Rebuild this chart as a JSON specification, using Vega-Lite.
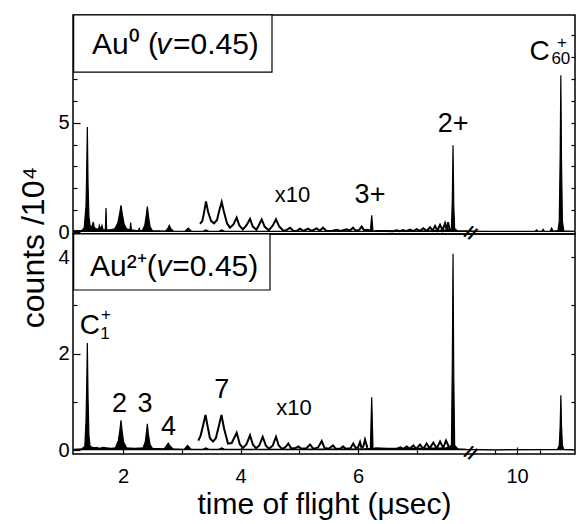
{
  "$schema": "https://vega.github.io/schema/vega-lite/v6.json",
  "padding": {"left": 16, "top": 13, "right": 0, "bottom": 72},
  "spacing": 0,
  "bounds": "flush",
  "resolve": {"scale": {"x": "independent", "y": "independent"}, "axis": {"x": "independent", "y": "independent"}},
  "config": {
    "font": "Liberation Sans",
    "view": {"stroke": "black", "strokeWidth": 1.5},
    "axis": {"domain": false, "grid": false, "labelFont": "Liberation Sans", "labelFontSize": 20, "labelColor": "black", "tickColor": "black", "tickWidth": 1.2, "titleFont": "Liberation Sans", "titleFontWeight": "normal", "titleColor": "black", "labelFlush": false, "labelOverlap": false},
    "text": {"font": "Liberation Sans", "color": "black"}
  },
  "datasets": {
    "top_main": [
      {"t":1.15,"c":0.05},{"t":1.3,"c":0.08},{"t":1.34,"c":0.2},{"t":1.37,"c":1.2},{"t":1.38,"c":2.5},{"t":1.393,"c":4.8},{"t":1.405,"c":2.2},{"t":1.42,"c":0.7},{"t":1.44,"c":0.3},{"t":1.465,"c":0.2},{"t":1.495,"c":0.46},{"t":1.51,"c":0.2},{"t":1.55,"c":0.15},{"t":1.585,"c":0.12},{"t":1.597,"c":0.3},{"t":1.62,"c":0.12},{"t":1.643,"c":0.3},{"t":1.66,"c":0.1},{"t":1.7,"c":0.1},{"t":1.711,"c":1.1},{"t":1.722,"c":0.1},{"t":1.78,"c":0.1},{"t":1.86,"c":0.15},{"t":1.91,"c":0.4},{"t":1.94,"c":0.8},{"t":1.966,"c":1.22},{"t":1.99,"c":0.8},{"t":2.02,"c":0.35},{"t":2.06,"c":0.15},{"t":2.12,"c":0.1},{"t":2.131,"c":0.43},{"t":2.142,"c":0.1},{"t":2.265,"c":0.05},{"t":2.277,"c":0.2},{"t":2.29,"c":0.05},{"t":2.33,"c":0.08},{"t":2.37,"c":0.3},{"t":2.395,"c":0.75},{"t":2.414,"c":1.17},{"t":2.435,"c":0.7},{"t":2.46,"c":0.25},{"t":2.5,"c":0.06},{"t":2.72,"c":0.04},{"t":2.76,"c":0.15},{"t":2.788,"c":0.3},{"t":2.815,"c":0.15},{"t":2.86,"c":0.04},{"t":3.05,"c":0.03},{"t":3.111,"c":0.18},{"t":3.17,"c":0.03},{"t":3.36,"c":0.03},{"t":3.41,"c":0.1},{"t":3.46,"c":0.03},{"t":3.63,"c":0.03},{"t":3.68,"c":0.1},{"t":3.73,"c":0.03},{"t":4.5,"c":0.03},{"t":6.15,"c":0.04},{"t":6.21,"c":0.05},{"t":6.233,"c":0.76},{"t":6.255,"c":0.05},{"t":6.5,"c":0.04},{"t":7.0,"c":0.04},{"t":7.3,"c":0.06},{"t":7.5,"c":0.1},{"t":7.59,"c":0.15},{"t":7.605,"c":1.5},{"t":7.617,"c":3.97},{"t":7.63,"c":1.2},{"t":7.645,"c":0.15},{"t":7.7,"c":0.05},{"t":7.85,"c":0.05},{"t":8.5,"c":0.03},{"t":10.5,"c":0.03},{"t":10.8,"c":0.03},{"t":10.87,"c":0.1},{"t":10.94,"c":0.03},{"t":11.1,"c":0.03},{"t":11.16,"c":0.12},{"t":11.22,"c":0.03},{"t":11.47,"c":0.04},{"t":11.54,"c":0.18},{"t":11.61,"c":0.04},{"t":11.82,"c":0.06},{"t":11.88,"c":0.5},{"t":11.92,"c":3.5},{"t":11.95,"c":7.17},{"t":11.98,"c":3.2},{"t":12.02,"c":0.5},{"t":12.08,"c":0.05},{"t":12.58,"c":0.03}
    ],
    "top_x10": [
      {"s":"a","t":3.31,"c":0.38},{"s":"a","t":3.35,"c":0.5},{"s":"a","t":3.38,"c":0.9},{"s":"a","t":3.413,"c":1.4},{"s":"a","t":3.45,"c":0.9},{"s":"a","t":3.5,"c":0.5},{"s":"a","t":3.55,"c":0.4},{"s":"a","t":3.6,"c":0.55},{"s":"a","t":3.64,"c":1.0},{"s":"a","t":3.68,"c":1.37},{"s":"a","t":3.72,"c":0.9},{"s":"a","t":3.77,"c":0.4},{"s":"a","t":3.82,"c":0.2},{"s":"a","t":3.88,"c":0.35},{"s":"a","t":3.935,"c":0.66},{"s":"a","t":3.98,"c":0.3},{"s":"a","t":4.04,"c":0.12},{"s":"a","t":4.1,"c":0.3},{"s":"a","t":4.162,"c":0.6},{"s":"a","t":4.21,"c":0.25},{"s":"a","t":4.27,"c":0.1},{"s":"a","t":4.31,"c":0.3},{"s":"a","t":4.361,"c":0.58},{"s":"a","t":4.41,"c":0.25},{"s":"a","t":4.48,"c":0.08},{"s":"a","t":4.55,"c":0.3},{"s":"a","t":4.604,"c":0.58},{"s":"a","t":4.66,"c":0.25},{"s":"a","t":4.73,"c":0.06},{"s":"a","t":4.79,"c":0.1},{"s":"a","t":4.843,"c":0.2},{"s":"a","t":4.9,"c":0.06},{"s":"a","t":4.96,"c":0.05},{"s":"a","t":5.013,"c":0.15},{"s":"a","t":5.07,"c":0.05},{"s":"a","t":5.149,"c":0.15},{"s":"a","t":5.21,"c":0.05},{"s":"a","t":5.297,"c":0.17},{"s":"a","t":5.35,"c":0.06},{"s":"a","t":5.404,"c":0.2},{"s":"a","t":5.46,"c":0.06},{"s":"a","t":5.55,"c":0.05},{"s":"a","t":5.637,"c":0.1},{"s":"a","t":5.7,"c":0.05},{"s":"a","t":5.808,"c":0.12},{"s":"a","t":5.86,"c":0.06},{"s":"a","t":5.915,"c":0.2},{"s":"a","t":5.96,"c":0.06},{"s":"a","t":6.02,"c":0.1},{"s":"a","t":6.063,"c":0.25},{"s":"a","t":6.1,"c":0.08},{"s":"a","t":6.15,"c":0.1},{"s":"a","t":6.2,"c":0.08},
      {"s":"b","t":6.28,"c":0.05},{"s":"b","t":6.45,"c":0.05},{"s":"b","t":6.6,"c":0.04},{"s":"b","t":6.659,"c":0.08},{"s":"b","t":6.71,"c":0.04},{"s":"b","t":6.766,"c":0.09},{"s":"b","t":6.82,"c":0.04},{"s":"b","t":6.885,"c":0.11},{"s":"b","t":6.94,"c":0.04},{"s":"b","t":6.999,"c":0.13},{"s":"b","t":7.05,"c":0.05},{"s":"b","t":7.111,"c":0.17},{"s":"b","t":7.17,"c":0.05},{"s":"b","t":7.225,"c":0.22},{"s":"b","t":7.27,"c":0.06},{"s":"b","t":7.311,"c":0.28},{"s":"b","t":7.35,"c":0.07},{"s":"b","t":7.396,"c":0.33},{"s":"b","t":7.44,"c":0.08},{"s":"b","t":7.481,"c":0.4},{"s":"b","t":7.51,"c":0.1},{"s":"b","t":7.532,"c":0.45},{"s":"b","t":7.56,"c":0.12}
    ],
    "bot_main": [
      {"t":1.15,"c":0.02},{"t":1.3,"c":0.03},{"t":1.35,"c":0.08},{"t":1.37,"c":0.6},{"t":1.382,"c":1.3},{"t":1.393,"c":2.22},{"t":1.405,"c":1.1},{"t":1.42,"c":0.3},{"t":1.44,"c":0.08},{"t":1.5,"c":0.05},{"t":1.55,"c":0.06},{"t":1.6,"c":0.04},{"t":1.66,"c":0.06},{"t":1.72,"c":0.05},{"t":1.8,"c":0.04},{"t":1.87,"c":0.05},{"t":1.92,"c":0.2},{"t":1.945,"c":0.4},{"t":1.966,"c":0.62},{"t":1.985,"c":0.4},{"t":2.01,"c":0.17},{"t":2.06,"c":0.05},{"t":2.2,"c":0.04},{"t":2.34,"c":0.05},{"t":2.38,"c":0.18},{"t":2.4,"c":0.38},{"t":2.414,"c":0.55},{"t":2.43,"c":0.35},{"t":2.46,"c":0.12},{"t":2.5,"c":0.04},{"t":2.7,"c":0.03},{"t":2.74,"c":0.09},{"t":2.771,"c":0.15},{"t":2.8,"c":0.09},{"t":2.85,"c":0.03},{"t":3.04,"c":0.02},{"t":3.1,"c":0.1},{"t":3.16,"c":0.02},{"t":3.36,"c":0.02},{"t":3.41,"c":0.05},{"t":3.46,"c":0.02},{"t":3.63,"c":0.02},{"t":3.68,"c":0.05},{"t":3.73,"c":0.02},{"t":4.5,"c":0.02},{"t":6.1,"c":0.03},{"t":6.21,"c":0.04},{"t":6.233,"c":1.1},{"t":6.255,"c":0.04},{"t":6.5,"c":0.03},{"t":7.5,"c":0.05},{"t":7.59,"c":0.1},{"t":7.605,"c":1.8},{"t":7.617,"c":4.07},{"t":7.63,"c":1.5},{"t":7.645,"c":0.1},{"t":7.7,"c":0.03},{"t":7.85,"c":0.02},{"t":9.0,"c":0.01},{"t":11.8,"c":0.02},{"t":11.88,"c":0.1},{"t":11.92,"c":0.5},{"t":11.95,"c":1.14},{"t":11.98,"c":0.5},{"t":12.02,"c":0.1},{"t":12.08,"c":0.02},{"t":12.58,"c":0.01}
    ],
    "bot_x10": [
      {"s":"a","t":3.282,"c":0.2},{"s":"a","t":3.32,"c":0.3},{"s":"a","t":3.36,"c":0.5},{"s":"a","t":3.404,"c":0.73},{"s":"a","t":3.44,"c":0.5},{"s":"a","t":3.48,"c":0.25},{"s":"a","t":3.532,"c":0.18},{"s":"a","t":3.58,"c":0.25},{"s":"a","t":3.63,"c":0.5},{"s":"a","t":3.676,"c":0.73},{"s":"a","t":3.72,"c":0.45},{"s":"a","t":3.787,"c":0.14},{"s":"a","t":3.85,"c":0.15},{"s":"a","t":3.935,"c":0.36},{"s":"a","t":3.99,"c":0.12},{"s":"a","t":4.043,"c":0.05},{"s":"a","t":4.1,"c":0.12},{"s":"a","t":4.162,"c":0.31},{"s":"a","t":4.21,"c":0.12},{"s":"a","t":4.264,"c":0.04},{"s":"a","t":4.32,"c":0.1},{"s":"a","t":4.378,"c":0.28},{"s":"a","t":4.43,"c":0.1},{"s":"a","t":4.485,"c":0.03},{"s":"a","t":4.55,"c":0.1},{"s":"a","t":4.604,"c":0.28},{"s":"a","t":4.65,"c":0.1},{"s":"a","t":4.706,"c":0.03},{"s":"a","t":4.76,"c":0.06},{"s":"a","t":4.814,"c":0.14},{"s":"a","t":4.86,"c":0.04},{"s":"a","t":4.93,"c":0.04},{"s":"a","t":4.984,"c":0.08},{"s":"a","t":5.04,"c":0.03},{"s":"a","t":5.12,"c":0.04},{"s":"a","t":5.183,"c":0.12},{"s":"a","t":5.24,"c":0.03},{"s":"a","t":5.32,"c":0.06},{"s":"a","t":5.382,"c":0.19},{"s":"a","t":5.43,"c":0.05},{"s":"a","t":5.5,"c":0.03},{"s":"a","t":5.574,"c":0.1},{"s":"a","t":5.62,"c":0.03},{"s":"a","t":5.7,"c":0.03},{"s":"a","t":5.745,"c":0.08},{"s":"a","t":5.79,"c":0.03},{"s":"a","t":5.87,"c":0.04},{"s":"a","t":5.92,"c":0.14},{"s":"a","t":5.96,"c":0.05},{"s":"a","t":6.0,"c":0.06},{"s":"a","t":6.034,"c":0.17},{"s":"a","t":6.06,"c":0.05},{"s":"a","t":6.09,"c":0.08},{"s":"a","t":6.119,"c":0.22},{"s":"a","t":6.16,"c":0.05},
      {"s":"b","t":6.28,"c":0.04},{"s":"b","t":6.5,"c":0.03},{"s":"b","t":6.65,"c":0.03},{"s":"b","t":6.72,"c":0.06},{"s":"b","t":6.77,"c":0.03},{"s":"b","t":6.829,"c":0.08},{"s":"b","t":6.88,"c":0.03},{"s":"b","t":6.942,"c":0.1},{"s":"b","t":6.99,"c":0.03},{"s":"b","t":7.055,"c":0.12},{"s":"b","t":7.11,"c":0.03},{"s":"b","t":7.169,"c":0.14},{"s":"b","t":7.22,"c":0.04},{"s":"b","t":7.282,"c":0.16},{"s":"b","t":7.34,"c":0.04},{"s":"b","t":7.396,"c":0.18},{"s":"b","t":7.45,"c":0.05},{"s":"b","t":7.498,"c":0.2},{"s":"b","t":7.55,"c":0.06}
    ]
  },
  "vconcat": [
    {
      "width": 502,
      "height": 219,
      "resolve": {"axis": {"x": "independent", "y": "independent"}},
      "layer": [
        {
          "data": {"name": "top_main"},
          "mark": {"type": "area", "color": "black"},
          "encoding": {
            "x": {"field": "t", "type": "quantitative", "scale": {"domain": [1.149, 7.906, 12.58], "range": [0, 397, 502], "nice": false, "zero": false}, "axis": null},
            "y": {"field": "c", "type": "quantitative", "scale": {"domain": [-0.09, 9.93], "nice": false, "zero": false},
                  "axis": {"orient": "left", "values": [0,1,2,3,4,5,6,7,8,9], "labelExpr": "datum.value % 5 == 0 ? datum.label : ''", "tickSize": {"condition": {"test": "datum.value % 5 == 0", "value": -7}, "value": -4}, "labelPadding": 11, "title": "counts /10⁴", "titleFontSize": 32, "titleAngle": 270, "titleAlign": "center", "titleBaseline": "middle", "titleX": -40, "titleY": 232}},
            "y2": {"datum": 0}
          }
        },
        {
          "data": {"name": "top_main"},
          "mark": {"type": "line", "color": "black", "strokeWidth": 1.2},
          "encoding": {
            "x": {"field": "t", "type": "quantitative", "scale": {"domain": [1.149, 7.906, 12.58], "range": [0, 397, 502], "nice": false, "zero": false}, "axis": null},
            "y": {"field": "c", "type": "quantitative", "scale": {"domain": [-0.09, 9.93], "nice": false, "zero": false}, "axis": null}
          }
        },
        {
          "data": {"name": "top_x10"},
          "mark": {"type": "line", "color": "black", "strokeWidth": 2},
          "encoding": {
            "x": {"field": "t", "type": "quantitative", "scale": {"domain": [1.149, 7.906, 12.58], "range": [0, 397, 502], "nice": false, "zero": false}, "axis": null},
            "y": {"field": "c", "type": "quantitative", "scale": {"domain": [-0.09, 9.93], "nice": false, "zero": false}, "axis": null},
            "detail": {"field": "s"}
          }
        },
        {
          "data": {"values": [{"t1": 1.16, "t2": 4.536, "c1": 7.32, "c2": 9.93}]},
          "mark": {"type": "rect", "fill": "white", "stroke": "black", "strokeWidth": 1.2},
          "encoding": {
            "x": {"field": "t1", "type": "quantitative", "scale": {"domain": [1.149, 7.906, 12.58], "range": [0, 397, 502], "nice": false, "zero": false}, "axis": null},
            "x2": {"field": "t2"},
            "y": {"field": "c1", "type": "quantitative", "scale": {"domain": [-0.09, 9.93], "nice": false, "zero": false},
                  "axis": {"orient": "right", "values": [1,2,3,4,5,6,7,8,9], "labels": false, "tickSize": -4, "title": null}},
            "y2": {"field": "c2"}
          }
        },
        {
          "data": {"values": [{"t": 1.472, "c": 8.57, "label": "Au⁰ ("}, {"t": 2.85, "c": 8.57, "label": "=0.45)"}]},
          "mark": {"type": "text", "fontSize": 30, "align": "left", "baseline": "middle"},
          "encoding": {
            "x": {"field": "t", "type": "quantitative", "scale": {"domain": [1.149, 7.906, 12.58], "range": [0, 397, 502], "nice": false, "zero": false}, "axis": null},
            "y": {"field": "c", "type": "quantitative", "scale": {"domain": [-0.09, 9.93], "nice": false, "zero": false}, "axis": null},
            "text": {"field": "label"}
          }
        },
        {
          "data": {"values": [{"t": 2.565, "c": 8.57, "label": "v"}]},
          "mark": {"type": "text", "fontSize": 30, "fontStyle": "italic", "align": "left", "baseline": "middle"},
          "encoding": {
            "x": {"field": "t", "type": "quantitative", "scale": {"domain": [1.149, 7.906, 12.58], "range": [0, 397, 502], "nice": false, "zero": false}, "axis": null},
            "y": {"field": "c", "type": "quantitative", "scale": {"domain": [-0.09, 9.93], "nice": false, "zero": false}, "axis": null},
            "text": {"field": "label"}
          }
        },
        {
          "data": {"values": [{"t": 6.204, "c": 1.68, "label": "3+"}, {"t": 7.617, "c": 4.95, "label": "2+"}]},
          "mark": {"type": "text", "fontSize": 27, "align": "center", "baseline": "middle"},
          "encoding": {
            "x": {"field": "t", "type": "quantitative", "scale": {"domain": [1.149, 7.906, 12.58], "range": [0, 397, 502], "nice": false, "zero": false}, "axis": null},
            "y": {"field": "c", "type": "quantitative", "scale": {"domain": [-0.09, 9.93], "nice": false, "zero": false}, "axis": null},
            "text": {"field": "label"}
          }
        },
        {
          "data": {"values": [{"t": 4.885, "c": 1.68, "label": "x10"}]},
          "mark": {"type": "text", "fontSize": 22, "align": "center", "baseline": "middle"},
          "encoding": {
            "x": {"field": "t", "type": "quantitative", "scale": {"domain": [1.149, 7.906, 12.58], "range": [0, 397, 502], "nice": false, "zero": false}, "axis": null},
            "y": {"field": "c", "type": "quantitative", "scale": {"domain": [-0.09, 9.93], "nice": false, "zero": false}, "axis": null},
            "text": {"field": "label"}
          }
        },
        {
          "data": {"values": [{"t": 11.0, "c": 8.23, "label": "C"}]},
          "mark": {"type": "text", "fontSize": 28, "align": "center", "baseline": "middle"},
          "encoding": {
            "x": {"field": "t", "type": "quantitative", "scale": {"domain": [1.149, 7.906, 12.58], "range": [0, 397, 502], "nice": false, "zero": false}, "axis": null},
            "y": {"field": "c", "type": "quantitative", "scale": {"domain": [-0.09, 9.93], "nice": false, "zero": false}, "axis": null},
            "text": {"field": "label"}
          }
        },
        {
          "data": {"values": [{"t": 12.0, "c": 8.65, "label": "+"}, {"t": 11.95, "c": 7.91, "label": "60"}]},
          "mark": {"type": "text", "fontSize": 17, "align": "center", "baseline": "middle"},
          "encoding": {
            "x": {"field": "t", "type": "quantitative", "scale": {"domain": [1.149, 7.906, 12.58], "range": [0, 397, 502], "nice": false, "zero": false}, "axis": null},
            "y": {"field": "c", "type": "quantitative", "scale": {"domain": [-0.09, 9.93], "nice": false, "zero": false}, "axis": null},
            "text": {"field": "label"}
          }
        },
        {
          "data": {"values": [{"t": 7.906, "c": -0.09, "label": "//"}]},
          "mark": {"type": "text", "fontSize": 18, "fontWeight": "bold", "angle": 30, "align": "center", "baseline": "middle"},
          "encoding": {
            "x": {"field": "t", "type": "quantitative", "scale": {"domain": [1.149, 7.906, 12.58], "range": [0, 397, 502], "nice": false, "zero": false}, "axis": null},
            "y": {"field": "c", "type": "quantitative", "scale": {"domain": [-0.09, 9.93], "nice": false, "zero": false}, "axis": null},
            "text": {"field": "label"}
          }
        }
      ]
    },
    {
      "width": 502,
      "height": 220,
      "resolve": {"axis": {"x": "independent", "y": "independent"}},
      "layer": [
        {
          "data": {"name": "bot_main"},
          "mark": {"type": "area", "color": "black"},
          "encoding": {
            "x": {"field": "t", "type": "quantitative", "scale": {"domain": [1.149, 7.906, 12.58], "range": [0, 397, 502], "nice": false, "zero": false},
                  "axis": {"orient": "bottom", "values": [2,3,4,5,6,7,9,10,11], "labelExpr": "datum.value % 2 == 0 ? datum.label : ''", "tickSize": {"condition": {"test": "datum.value % 2 == 0", "value": -7}, "value": -4}, "labelPadding": 19, "title": "time of flight (μsec)", "titleFontSize": 30, "titlePadding": 0}},
            "y": {"field": "c", "type": "quantitative", "scale": {"domain": [-0.077, 4.48], "nice": false, "zero": false},
                  "axis": {"orient": "left", "values": [0,1,2,3,4], "labelExpr": "datum.value % 2 == 0 ? datum.label : ''", "tickSize": {"condition": {"test": "datum.value % 2 == 0", "value": -7}, "value": -4}, "labelPadding": 11, "title": null}},
            "y2": {"datum": 0}
          }
        },
        {
          "data": {"name": "bot_main"},
          "mark": {"type": "line", "color": "black", "strokeWidth": 1.2},
          "encoding": {
            "x": {"field": "t", "type": "quantitative", "scale": {"domain": [1.149, 7.906, 12.58], "range": [0, 397, 502], "nice": false, "zero": false}, "axis": null},
            "y": {"field": "c", "type": "quantitative", "scale": {"domain": [-0.077, 4.48], "nice": false, "zero": false}, "axis": null}
          }
        },
        {
          "data": {"name": "bot_x10"},
          "mark": {"type": "line", "color": "black", "strokeWidth": 2},
          "encoding": {
            "x": {"field": "t", "type": "quantitative", "scale": {"domain": [1.149, 7.906, 12.58], "range": [0, 397, 502], "nice": false, "zero": false}, "axis": null},
            "y": {"field": "c", "type": "quantitative", "scale": {"domain": [-0.077, 4.48], "nice": false, "zero": false}, "axis": null},
            "detail": {"field": "s"}
          }
        },
        {
          "data": {"values": [{"t1": 1.16, "t2": 4.502, "c1": 3.32, "c2": 4.48}]},
          "mark": {"type": "rect", "fill": "white", "stroke": "black", "strokeWidth": 1.2},
          "encoding": {
            "x": {"field": "t1", "type": "quantitative", "scale": {"domain": [1.149, 7.906, 12.58], "range": [0, 397, 502], "nice": false, "zero": false}, "axis": null},
            "x2": {"field": "t2"},
            "y": {"field": "c1", "type": "quantitative", "scale": {"domain": [-0.077, 4.48], "nice": false, "zero": false},
                  "axis": {"orient": "right", "values": [1,2,3,4], "labels": false, "tickSize": -4, "title": null}},
            "y2": {"field": "c2"}
          }
        },
        {
          "data": {"values": [{"t": 1.438, "c": 3.8, "label": "Au²⁺("}, {"t": 2.84, "c": 3.8, "label": "=0.45)"}]},
          "mark": {"type": "text", "fontSize": 30, "align": "left", "baseline": "middle"},
          "encoding": {
            "x": {"field": "t", "type": "quantitative", "scale": {"domain": [1.149, 7.906, 12.58], "range": [0, 397, 502], "nice": false, "zero": false}, "axis": null},
            "y": {"field": "c", "type": "quantitative", "scale": {"domain": [-0.077, 4.48], "nice": false, "zero": false}, "axis": null},
            "text": {"field": "label"}
          }
        },
        {
          "data": {"values": [{"t": 2.57, "c": 3.8, "label": "v"}]},
          "mark": {"type": "text", "fontSize": 30, "fontStyle": "italic", "align": "left", "baseline": "middle"},
          "encoding": {
            "x": {"field": "t", "type": "quantitative", "scale": {"domain": [1.149, 7.906, 12.58], "range": [0, 397, 502], "nice": false, "zero": false}, "axis": null},
            "y": {"field": "c", "type": "quantitative", "scale": {"domain": [-0.077, 4.48], "nice": false, "zero": false}, "axis": null},
            "text": {"field": "label"}
          }
        },
        {
          "data": {"values": [{"t": 1.94, "c": 0.965, "label": "2"}, {"t": 2.375, "c": 0.965, "label": "3"}, {"t": 2.774, "c": 0.48, "label": "4"}, {"t": 3.68, "c": 1.25, "label": "7"}]},
          "mark": {"type": "text", "fontSize": 27, "align": "center", "baseline": "middle"},
          "encoding": {
            "x": {"field": "t", "type": "quantitative", "scale": {"domain": [1.149, 7.906, 12.58], "range": [0, 397, 502], "nice": false, "zero": false}, "axis": null},
            "y": {"field": "c", "type": "quantitative", "scale": {"domain": [-0.077, 4.48], "nice": false, "zero": false}, "axis": null},
            "text": {"field": "label"}
          }
        },
        {
          "data": {"values": [{"t": 4.91, "c": 0.875, "label": "x10"}]},
          "mark": {"type": "text", "fontSize": 22, "align": "center", "baseline": "middle"},
          "encoding": {
            "x": {"field": "t", "type": "quantitative", "scale": {"domain": [1.149, 7.906, 12.58], "range": [0, 397, 502], "nice": false, "zero": false}, "axis": null},
            "y": {"field": "c", "type": "quantitative", "scale": {"domain": [-0.077, 4.48], "nice": false, "zero": false}, "axis": null},
            "text": {"field": "label"}
          }
        },
        {
          "data": {"values": [{"t": 1.438, "c": 2.57, "label": "C"}]},
          "mark": {"type": "text", "fontSize": 28, "align": "center", "baseline": "middle"},
          "encoding": {
            "x": {"field": "t", "type": "quantitative", "scale": {"domain": [1.149, 7.906, 12.58], "range": [0, 397, 502], "nice": false, "zero": false}, "axis": null},
            "y": {"field": "c", "type": "quantitative", "scale": {"domain": [-0.077, 4.48], "nice": false, "zero": false}, "axis": null},
            "text": {"field": "label"}
          }
        },
        {
          "data": {"values": [{"t": 1.711, "c": 2.8, "label": "+"}, {"t": 1.694, "c": 2.41, "label": "1"}]},
          "mark": {"type": "text", "fontSize": 17, "align": "center", "baseline": "middle"},
          "encoding": {
            "x": {"field": "t", "type": "quantitative", "scale": {"domain": [1.149, 7.906, 12.58], "range": [0, 397, 502], "nice": false, "zero": false}, "axis": null},
            "y": {"field": "c", "type": "quantitative", "scale": {"domain": [-0.077, 4.48], "nice": false, "zero": false}, "axis": null},
            "text": {"field": "label"}
          }
        },
        {
          "data": {"values": [{"t": 7.906, "c": -0.077, "label": "//"}]},
          "mark": {"type": "text", "fontSize": 18, "fontWeight": "bold", "angle": 30, "align": "center", "baseline": "middle"},
          "encoding": {
            "x": {"field": "t", "type": "quantitative", "scale": {"domain": [1.149, 7.906, 12.58], "range": [0, 397, 502], "nice": false, "zero": false}, "axis": null},
            "y": {"field": "c", "type": "quantitative", "scale": {"domain": [-0.077, 4.48], "nice": false, "zero": false}, "axis": null},
            "text": {"field": "label"}
          }
        }
      ]
    }
  ]
}
